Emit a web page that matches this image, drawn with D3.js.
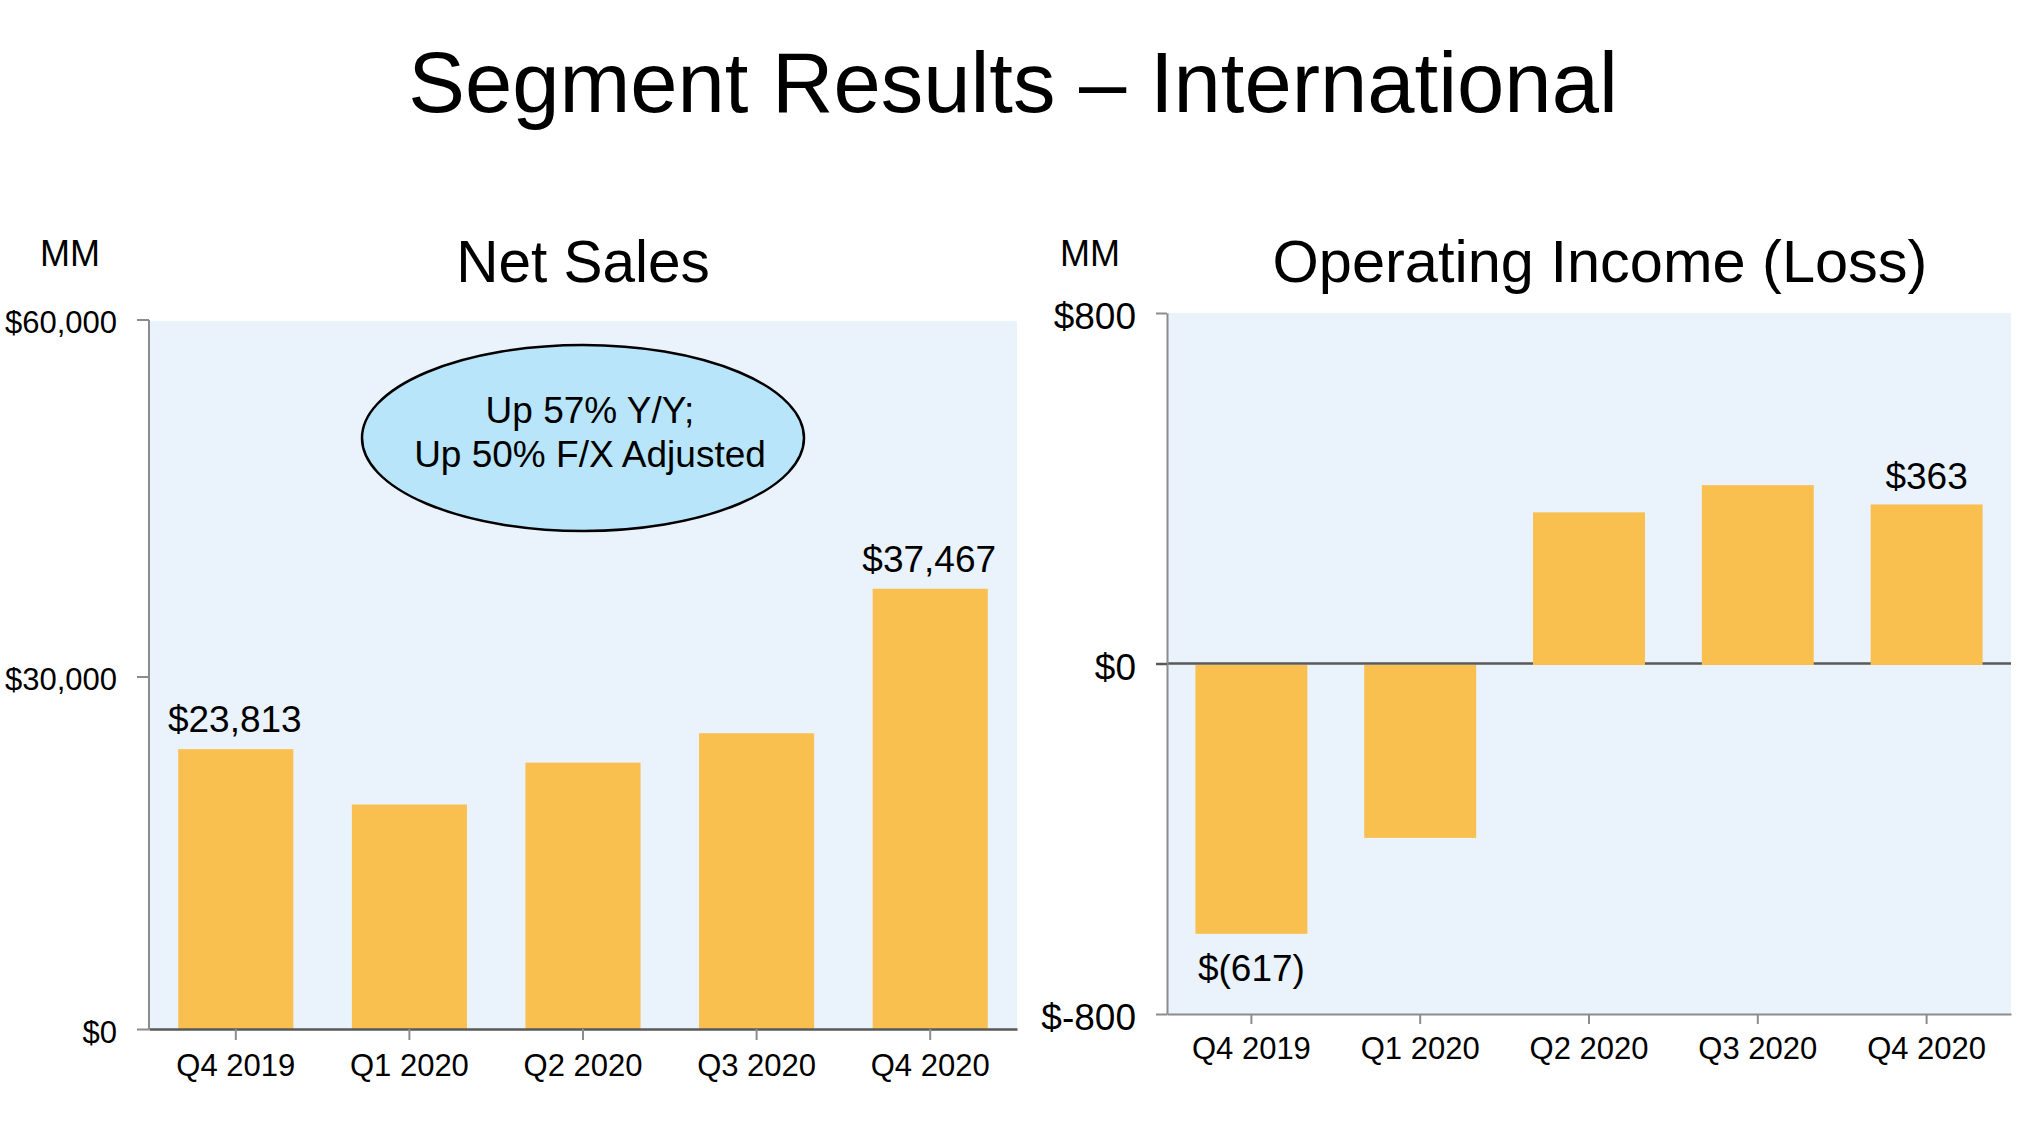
<!DOCTYPE html>
<html>
<head>
<meta charset="utf-8">
<script src="https://cdn.jsdelivr.net/npm/d3@7"></script>
<style>
  body { margin: 0; background: #fff; }
  text { font-family: "Liberation Sans", Arial, sans-serif; fill: #000; }
</style>
</head>
<body>
<div id="viz"></div>
<script>
// data
var quarters = ["Q4 2019", "Q1 2020", "Q2 2020", "Q3 2020", "Q4 2020"];
var netSales = [23813, 19106, 22668, 25171, 37467];
var opIncome = [-617, -398, 345, 407, 363];
var labelled = [true, false, false, false, true];
var salesTicks = [0, 30000, 60000];
var incomeTicks = [-800, 0, 800];
var calloutLines = ["Up 57% Y/Y;", "Up 50% F/X Adjusted"];

var width = 2023, height = 1123;
var barColor = "#F9BF4F", plotBg = "#EAF2FC";

var svg = d3.select("#viz").append("svg")
  .attr("width", width)
  .attr("height", height);

svg.append("text")
  .attr("x", 1013).attr("y", 112)
  .attr("text-anchor", "middle")
  .style("font-size", "85px")
  .text("Segment Results \u2013 International");

var money = d3.format(",");
function dollars(v) { return v < 0 ? "$(" + money(-v) + ")" : "$" + money(v); }

// ---- Net Sales ----
var x1 = d3.scaleBand().domain(quarters).range([149, 1017])
  .paddingInner(0.337).paddingOuter(0.1685);
var y1 = d3.scaleLinear().domain([0, 60000]).range([1029, 324]);

svg.append("rect")
  .attr("x", 149).attr("y", 321)
  .attr("width", 1017 - 149).attr("height", 1029 - 321)
  .attr("fill", plotBg);

svg.append("text").attr("x", 70).attr("y", 266)
  .attr("text-anchor", "middle").style("font-size", "36px").text("MM");
svg.append("text").attr("x", 583).attr("y", 282)
  .attr("text-anchor", "middle").style("font-size", "58.5px").text("Net Sales");

svg.selectAll(".sales-bar")
  .data(netSales)
  .enter().append("rect")
  .attr("class", "sales-bar")
  .attr("x", function (d, i) { return x1(quarters[i]); })
  .attr("y", function (d) { return y1(d); })
  .attr("width", x1.bandwidth())
  .attr("height", function (d) { return y1(0) - y1(d); })
  .attr("fill", barColor);

svg.selectAll(".sales-label")
  .data(netSales.filter(function (d, i) { return labelled[i]; }))
  .enter().append("text")
  .attr("class", "sales-label")
  .attr("x", function (d) { return x1(quarters[netSales.indexOf(d)]) + x1.bandwidth() / 2 - 1; })
  .attr("y", function (d) { return y1(d) - 17; })
  .attr("text-anchor", "middle")
  .style("font-size", "37px")
  .text(dollars);

var yAxis1 = svg.append("g")
  .attr("transform", "translate(149,0)")
  .call(d3.axisLeft(y1).tickValues(salesTicks)
    .tickFormat(function (d) { return "$" + money(d); })
    .tickSize(12).tickSizeOuter(0).tickPadding(20));
yAxis1.selectAll("text").style("font-size", "31px").attr("dy", "0.42em");
// the top tick sits on the plot's upper edge
yAxis1.selectAll(".tick").filter(function (d) { return d === 60000; })
  .attr("transform", "translate(0,320)");

var xAxis1 = svg.append("g")
  .attr("transform", "translate(0,1029)")
  .call(d3.axisBottom(x1).tickSize(11).tickSizeOuter(0).tickPadding(14));
xAxis1.selectAll("text").style("font-size", "31px");

yAxis1.selectAll("path, line").attr("stroke", "#8c8c8c").attr("stroke-width", 2);
yAxis1.select("path").attr("d", "M0,320V1029");
xAxis1.selectAll("line").attr("stroke", "#8c8c8c").attr("stroke-width", 2);
xAxis1.select("path").attr("stroke", "#595959").attr("stroke-width", 2.5);

// callout
svg.append("ellipse")
  .attr("cx", 583).attr("cy", 438).attr("rx", 221).attr("ry", 93)
  .attr("fill", "#B9E5FA").attr("stroke", "#000").attr("stroke-width", 2.5);
svg.selectAll(".callout")
  .data(calloutLines)
  .enter().append("text")
  .attr("class", "callout")
  .attr("x", 590)
  .attr("y", function (d, i) { return 423 + i * 44; })
  .attr("text-anchor", "middle")
  .style("font-size", "37px")
  .text(function (d) { return d; });

// ---- Operating Income (Loss) ----
var x2 = d3.scaleBand().domain(quarters).range([1167, 2011])
  .paddingInner(0.337).paddingOuter(0.1685);
var y2 = d3.scaleLinear().domain([-800, 800]).range([1014, 313]);

svg.append("rect")
  .attr("x", 1167).attr("y", 313)
  .attr("width", 2011 - 1167).attr("height", 1014 - 313)
  .attr("fill", plotBg);

svg.append("text").attr("x", 1090).attr("y", 266)
  .attr("text-anchor", "middle").style("font-size", "36px").text("MM");
svg.append("text").attr("x", 1600).attr("y", 282)
  .attr("text-anchor", "middle").style("font-size", "59.5px").text("Operating Income (Loss)");

// zero line sits under the bars
svg.append("line")
  .attr("x1", 1167).attr("x2", 2011)
  .attr("y1", y2(0)).attr("y2", y2(0))
  .attr("stroke", "#595959").attr("stroke-width", 2.5);

svg.selectAll(".income-bar")
  .data(opIncome)
  .enter().append("rect")
  .attr("class", "income-bar")
  .attr("x", function (d, i) { return x2(quarters[i]); })
  .attr("y", function (d) { return d >= 0 ? y2(d) : y2(0) + 1.5; })
  .attr("width", x2.bandwidth())
  .attr("height", function (d) { return d >= 0 ? y2(0) - y2(d) + 1.5 : y2(d) - y2(0) - 1.5; })
  .attr("fill", barColor);

svg.selectAll(".income-label")
  .data(opIncome.filter(function (d, i) { return labelled[i]; }))
  .enter().append("text")
  .attr("class", "income-label")
  .attr("x", function (d) { return x2(quarters[opIncome.indexOf(d)]) + x2.bandwidth() / 2; })
  .attr("y", function (d) { return d >= 0 ? y2(d) - 15 : y2(d) + 47; })
  .attr("text-anchor", "middle")
  .style("font-size", "37px")
  .text(dollars);

var yAxis2 = svg.append("g")
  .attr("transform", "translate(1167,0)")
  .call(d3.axisLeft(y2).tickValues(incomeTicks)
    .tickFormat(function (d) { return "$" + d; })
    .tickSize(11).tickSizeOuter(0).tickPadding(20));
yAxis2.selectAll("text").style("font-size", "37px").attr("dy", "0.42em");
yAxis2.selectAll("path, line").attr("stroke", "#8c8c8c").attr("stroke-width", 2);
yAxis2.selectAll(".tick").filter(function (d) { return d === 0; })
  .select("line").attr("stroke", "#595959").attr("stroke-width", 2.5);

var xAxis2 = svg.append("g")
  .attr("transform", "translate(0,1014)")
  .call(d3.axisBottom(x2).tickSize(10).tickSizeOuter(0).tickPadding(13));
xAxis2.selectAll("text").style("font-size", "31px");
xAxis2.selectAll("path, line").attr("stroke", "#8c8c8c").attr("stroke-width", 2);
</script>
</body>
</html>
